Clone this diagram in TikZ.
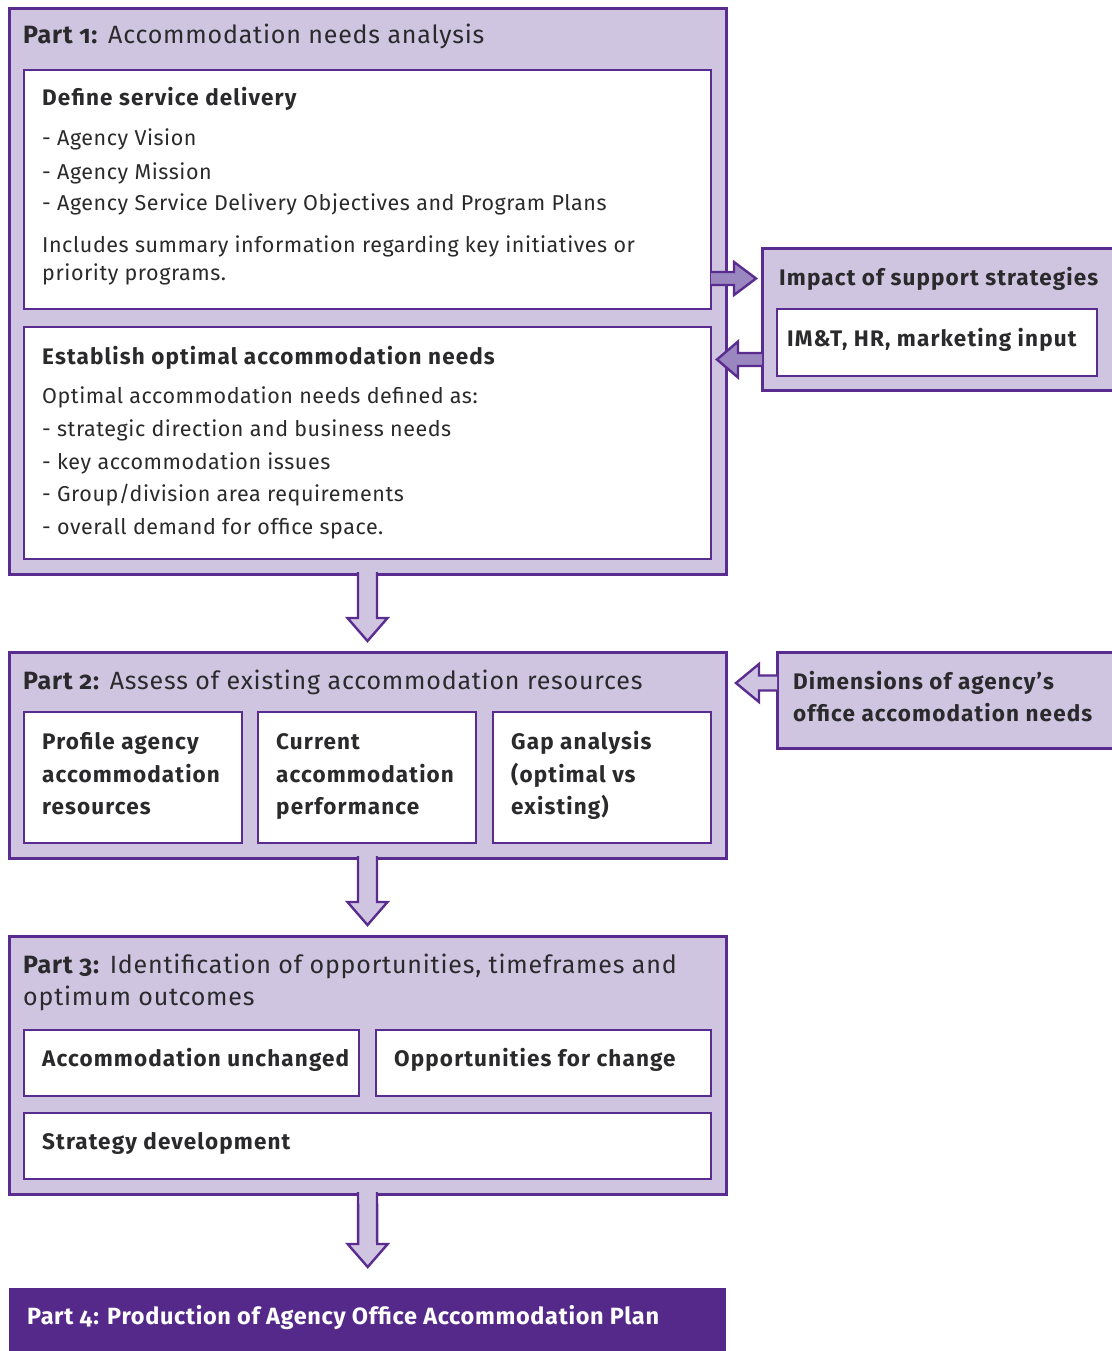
\documentclass[tikz,border=0pt]{standalone}
\usepackage{fontspec}
\setmainfont{Fira Sans}[Numbers=OldStyle]
\usetikzlibrary{calc}
\definecolor{lilac}{HTML}{CFC5E1}
\definecolor{lilacdark}{HTML}{9B87C0}
\definecolor{plum}{HTML}{5B2C90}
\definecolor{plumdeep}{HTML}{55298A}
\definecolor{ink}{HTML}{2A2A2C}
\newcommand{\body}{\fontsize{21.5}{26}\selectfont\addfontfeature{LetterSpace=2.6}}
\newcommand{\head}{\fontsize{22.5}{27}\selectfont\bfseries\addfontfeature{LetterSpace=5}}
\newcommand{\ttl}{\fontsize{25}{30}\selectfont\addfontfeature{LetterSpace=3.2}}
% block arrow downwards: from node, to node, gap above the target
\newcommand{\blockdown}[3]{%
  \fill[lilac] ($(#1.south)+(-9.5,-1.8)$) -- ($(#2.north)+(-9.5,-#3-23)$) -- ($(#2.north)+(-20,-#3-23)$)
    -- ($(#2.north)+(0,-#3)$) -- ($(#2.north)+(20,-#3-23)$) -- ($(#2.north)+(9.5,-#3-23)$)
    -- ($(#1.south)+(9.5,-1.8)$) -- cycle;
  \draw[plum,line width=2.4pt,line join=miter] ($(#1.south)+(-9.5,-1.8)$) -- ($(#2.north)+(-9.5,-#3-23)$) -- ($(#2.north)+(-20,-#3-23)$)
    -- ($(#2.north)+(0,-#3)$) -- ($(#2.north)+(20,-#3-23)$) -- ($(#2.north)+(9.5,-#3-23)$)
    -- ($(#1.south)+(9.5,-1.8)$);}
% block arrow sideways: start, tip, shaft half, head half, head length (negative = pointing left), fill
\newcommand{\blockside}[6]{%
  \fill[#6] ($(#1)+(0,-#3)$) -- ($(#2)+(-#5,-#3)$) -- ($(#2)+(-#5,-#4)$) -- (#2)
    -- ($(#2)+(-#5,#4)$) -- ($(#2)+(-#5,#3)$) -- ($(#1)+(0,#3)$) -- cycle;
  \draw[plum,line width=2.4pt,line join=miter] ($(#1)+(0,-#3)$) -- ($(#2)+(-#5,-#3)$) -- ($(#2)+(-#5,-#4)$) -- (#2)
    -- ($(#2)+(-#5,#4)$) -- ($(#2)+(-#5,#3)$) -- ($(#1)+(0,#3)$);}

\begin{document}
\begin{tikzpicture}[x=1pt,y=-1pt,
  partbox/.style={draw=plum,fill=lilac,line width=3pt,anchor=north west,inner sep=0,outer sep=0},
  innerbox/.style={draw=plum,fill=white,line width=2.5pt,anchor=north west,inner sep=0,outer sep=0},
  sidebox/.style={draw=plum,fill=lilac,line width=3pt,anchor=north west,inner sep=0,outer sep=0},
  txt/.style={anchor=base west,inner sep=0,text=ink,font=\body},
  hd/.style={anchor=base west,inner sep=0,text=ink,font=\head},
  tt/.style={anchor=base west,inner sep=0,text=ink,font=\ttl}]
\useasboundingbox (0,0) rectangle (1111,1351);

% part 1
\node[partbox,minimum width=717pt,minimum height=565pt] (part1) at (9,9) {};
\node[tt] (t1) at (23,44) {\textbf{Part 1:} Accommodation needs analysis};
\node[innerbox,minimum width=687pt,minimum height=239pt] (serv) at (24,70) {};
\node[hd] (serva) at (42,106) {Define service delivery};
\node[txt] (servb) at (42,146) {- Agency Vision};
\node[txt] (servc) at (42,179) {- Agency Mission};
\node[txt] (servd) at (42,211) {- Agency Service Delivery Objectives and Program Plans};
\node[txt] (serve) at (42,252) {Includes summary information regarding key initiatives or};
\node[txt] (servf) at (42,280) {priority programs.};
\node[innerbox,minimum width=687pt,minimum height=232pt] (optim) at (24,327) {};
\node[hd] (optima) at (42,364) {Establish optimal accommodation needs};
\node[txt] (optimb) at (42,403) {Optimal accommodation needs defined as:};
\node[txt] (optimc) at (42,436) {- strategic direction and business needs};
\node[txt] (optimd) at (42,469) {- key accommodation issues};
\node[txt] (optime) at (42,501) {- Group/division area requirements};
\node[txt] (optimf) at (42,534) {- overall demand for office space.};

% support strategies
\node[sidebox,minimum width=370pt,minimum height=142pt] (supp) at (762,248) {};
\node[hd] (suppa) at (779,285) {Impact of support strategies};
\node[innerbox,minimum width=320pt,minimum height=67pt] (imt) at (777,309) {};
\node[hd] (imta) at (787,346) {IM\&T, HR, marketing input};
\coordinate (ya) at (0,278.5);
\coordinate (yb) at (0,359.5);
\blockside{serv.east |- ya}{$(supp.west |- ya)+(-6,0)$}{6.5}{16.5}{22}{lilacdark}
\blockside{supp.west |- yb}{$(optim.east |- yb)+(6,0)$}{6.5}{18}{-21}{lilacdark}

% part 2
\node[partbox,minimum width=717pt,minimum height=206pt] (part2) at (9,652) {};
\node[tt] (t2) at (23,689) {\textbf{Part 2:} Assess of existing accommodation resources};
\node[innerbox,minimum width=218pt,minimum height=131pt] (prof) at (24,712) {};
\node[hd] (profa) at (42,749) {Profile agency};
\node[hd] (profb) at (42,782) {accommodation};
\node[hd] (profc) at (42,814) {resources};
\node[innerbox,minimum width=218pt,minimum height=131pt] (curr) at (258,712) {};
\node[hd] (curra) at (276,749) {Current};
\node[hd] (currb) at (276,782) {accommodation};
\node[hd] (currc) at (276,814) {performance};
\node[innerbox,minimum width=218pt,minimum height=131pt] (gap) at (493,712) {};
\node[hd] (gapa) at (511,749) {Gap analysis};
\node[hd] (gapb) at (511,782) {(optimal vs};
\node[hd] (gapc) at (511,814) {existing)};

% dimensions
\node[sidebox,minimum width=355pt,minimum height=96pt] (dims) at (777,652) {};
\node[hd] (dimsa) at (793,689) {Dimensions of agency’s};
\node[hd] (dimsb) at (793,721) {office accomodation needs};
\coordinate (yc) at (0,683);
\blockside{dims.west |- yc}{$(part2.east |- yc)+(10,0)$}{7.5}{19}{-23}{lilac}

% part 3
\node[partbox,minimum width=717pt,minimum height=258pt] (part3) at (9,936) {};
\node[tt] (t3a) at (23,973) {\textbf{Part 3:} Identification of opportunities, timeframes and};
\node[tt] (t3b) at (23,1005) {optimum outcomes};
\node[innerbox,minimum width=335pt,minimum height=66pt] (same) at (24,1030) {};
\node[hd] (samea) at (42,1066) {Accommodation unchanged};
\node[innerbox,minimum width=335pt,minimum height=66pt] (chg) at (376,1030) {};
\node[hd] (chga) at (394,1066) {Opportunities for change};
\node[innerbox,minimum width=687pt,minimum height=66pt] (strat) at (24,1113) {};
\node[hd] (strata) at (42,1149) {Strategy development};

% part 4
\node[fill=plumdeep,anchor=north west,inner sep=0,minimum width=717pt,minimum height=80pt] (part4) at (9,1288) {};
\node[anchor=base west,inner sep=0,text=white,font=\fontsize{23.5}{28}\selectfont\bfseries\addfontfeature{LetterSpace=2.8}] (t4) at (27,1324) {Part 4: Production of Agency Office Accommodation Plan};

\blockdown{part1}{part2}{11}
\blockdown{part2}{part3}{11}
\blockdown{part3}{part4}{21}
\end{tikzpicture}
\end{document}
